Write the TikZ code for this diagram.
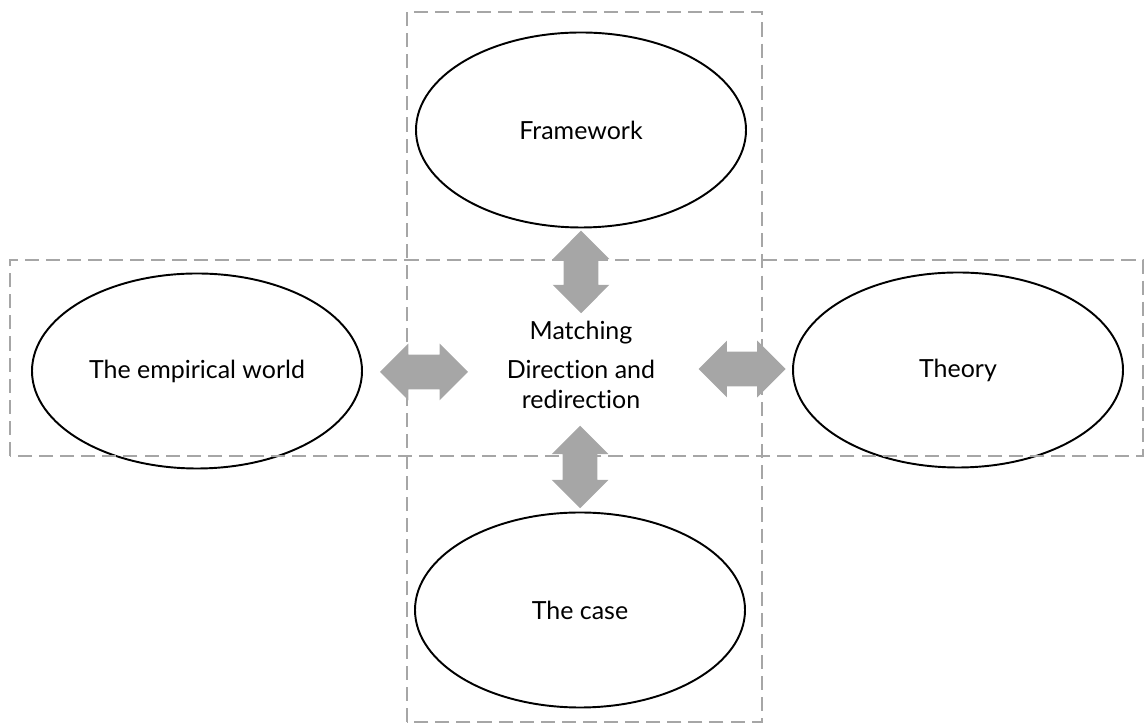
\documentclass[tikz,border=0pt]{standalone}
\usepackage{fontspec}
\setmainfont{Lato}[Ligatures={NoCommon}]
\usetikzlibrary{arrows,shapes,positioning}
\definecolor{linegray}{RGB}{166,166,166}

\begin{document}
\begin{tikzpicture}[font=\fontsize{14.2}{17}\selectfont]
  \tikzstyle{oval}=[ellipse,draw=black,line width=1.1pt,minimum width=6.6cm,minimum height=3.9cm]
  \tikzstyle{block}=[double arrow,fill=linegray,draw=none,inner xsep=0pt,inner ysep=0.34cm,double arrow head extend=0.22cm,minimum height=1.65cm]
  \tikzstyle{frame}=[draw=linegray,line width=1.1pt,dash pattern=on 8pt off 4pt]

  \useasboundingbox (0,0) rectangle (22.9,14.5);

  \node[oval] (F) at (11.62,11.9)  {Framework};
  \node[oval] (W) at (3.94,7.08)   {The empirical world};
  \node[oval] (T) at (19.16,7.1)   {Theory};
  \node[oval] (C) at (11.6,2.3)    {The case};
  \node[align=center] (M) at (11.62,7.2) {Matching\\[5pt]Direction and\\redirection};

  \node[block,rotate=90] (FM) at (11.62,9.06) {};
  \node[block,rotate=90] (CM) at (11.6,5.16)  {};
  \node[block,minimum height=1.76cm] (WM) at (8.48,7.06) {};
  \node[block,minimum height=1.74cm] (TM) at (14.84,7.12) {};

  \draw[frame] (8.14,0.06) rectangle (15.24,14.26);
  \draw[frame] (0.2,5.38) rectangle (22.86,9.3);
\end{tikzpicture}
\end{document}
